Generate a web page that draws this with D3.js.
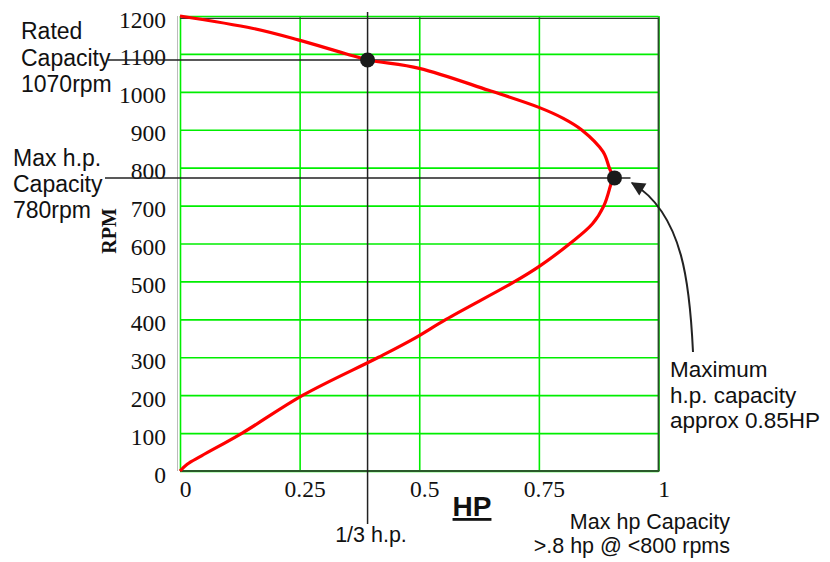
<!DOCTYPE html>
<html><head><meta charset="utf-8">
<script src="https://cdn.jsdelivr.net/npm/d3@7"></script>
<style>body{margin:0;background:#fff}</style>
</head><body><svg id="c" width="830" height="562"></svg>
<script>
// ---- data ----
const hpValues  = [0, 0.015, 0.045, 0.13, 0.257, 0.415, 0.49, 0.556, 0.70, 0.75, 0.815, 0.862, 0.886, 0.899, 0.904, 0.897, 0.884, 0.839, 0.801, 0.75, 0.645, 0.5, 0.394, 0.348, 0.247, 0.153, 0];
const rpmValues = [0, 18, 40, 100, 200, 300, 350, 400, 500, 539, 600, 652, 700, 750, 775, 800, 842, 900, 930, 959, 1004, 1062, 1084, 1100, 1137, 1167, 1200];
const xTicks = [0, 0.25, 0.5, 0.75, 1];
const xTickLabels = ["0", "0.25", "0.5", "0.75", "1"];
const yTicks = [0,100,200,300,400,500,600,700,800,900,1000,1100,1200];
const ratedPoint = {hp: 0.392, rpm: 1084};
const maxPoint = {hp: 0.908, rpm: 773};
const ratedLabel = ["Rated", "Capacity", "1070rpm"];
const maxLabel = ["Max h.p.", "Capacity", "780rpm"];
const maxNote = ["Maximum", "h.p. capacity", "approx 0.85HP"];
const bottomNote = ["Max hp Capacity", ">.8 hp @ <800 rpms"];

const svg = d3.select("#c");
const x = d3.scaleLinear().domain([0, 1]).range([180, 658.5]);
const y = d3.scaleLinear().domain([0, 1200]).range([471, 16]);
const green = "#00ee00";
const serif = "'Liberation Serif', 'Times New Roman', serif";
const sans = "'Liberation Sans', Arial, sans-serif";

// gridlines
svg.append("g").attr("transform", `translate(0,${y(0)})`)
  .call(d3.axisBottom(x).tickValues(xTicks).tickSize(-(y(0) - y(1200))).tickFormat(""))
  .call(g => { g.select(".domain").remove(); g.selectAll("line").attr("stroke", green).attr("stroke-width", 1.6); });
svg.append("g").attr("transform", `translate(${x(0)},0)`)
  .call(d3.axisLeft(y).tickValues(yTicks).tickSize(-(x(1) - x(0))).tickFormat(""))
  .call(g => { g.select(".domain").remove(); g.selectAll("line").attr("stroke", green).attr("stroke-width", 1.6); });

// frame (dark edges)
svg.append("line").attr("x1", x(0)).attr("x2", x(1)).attr("y1", y(1200) + 2.3).attr("y2", y(1200) + 2.3).attr("stroke", "#333").attr("stroke-width", 1.3);
svg.append("line").attr("x1", x(1)).attr("x2", x(1)).attr("y1", y(1200) + 1.5).attr("y2", y(0)).attr("stroke", "#2a4a2a").attr("stroke-width", 1.8);
svg.append("line").attr("x1", x(0)).attr("x2", x(1) + 0.9).attr("y1", y(0)).attr("y2", y(0)).attr("stroke", "#2a5a2a").attr("stroke-width", 2);
svg.append("line").attr("x1", x(0) - 2.5).attr("x2", x(0) - 2.5).attr("y1", y(1200)).attr("y2", y(0)).attr("stroke", "#bbb").attr("stroke-width", 1);

// tick labels via axes
svg.append("g").attr("transform", `translate(${x(0)},0)`)
  .call(d3.axisLeft(y).tickValues(yTicks).tickSize(0).tickPadding(14).tickFormat(d3.format("d")))
  .call(g => { g.select(".domain").remove();
    g.selectAll("text").attr("font-family", serif).attr("font-size", 23.5).attr("fill", "#111").attr("dy", "0.47em"); });
svg.append("g").attr("transform", `translate(0,${y(0)})`)
  .call(d3.axisBottom(x).tickValues(xTicks).tickSize(0).tickPadding(9).tickFormat((d, i) => xTickLabels[i]))
  .call(g => { g.select(".domain").remove();
    g.selectAll("text").attr("font-family", serif).attr("font-size", 23.5).attr("fill", "#111").attr("dx", 5); });

// annotation lines
const ink = "#222";
svg.append("line").attr("x1", 108).attr("x2", x(0.5)).attr("y1", y(ratedPoint.rpm)).attr("y2", y(ratedPoint.rpm)).attr("stroke", ink).attr("stroke-width", 1.5);
svg.append("line").attr("x1", x(ratedPoint.hp)).attr("x2", x(ratedPoint.hp)).attr("y1", 12).attr("y2", 524).attr("stroke", ink).attr("stroke-width", 1.5);
svg.append("line").attr("x1", 105).attr("x2", x(maxPoint.hp) + 16).attr("y1", y(maxPoint.rpm)).attr("y2", y(maxPoint.rpm)).attr("stroke", ink).attr("stroke-width", 1.5);

// curve
const pts = hpValues.map((h, i) => [h, rpmValues[i]]);
svg.append("path").datum(pts)
  .attr("d", d3.line().x(d => x(d[0])).y(d => y(d[1])).curve(d3.curveCatmullRom.alpha(0.5)))
  .attr("fill", "none").attr("stroke", "#ff0000").attr("stroke-width", 3.2).attr("stroke-linejoin", "round");

// dots
svg.selectAll("circle.pt").data([ratedPoint, maxPoint]).join("circle")
  .attr("cx", d => x(d.hp)).attr("cy", d => y(d.rpm)).attr("r", 7.5).attr("fill", "#1a1a1a");

// arrow
svg.append("defs").append("marker").attr("id", "ah").attr("viewBox", "0 0 10 10")
  .attr("refX", 9).attr("refY", 5).attr("markerWidth", 8).attr("markerHeight", 7).attr("orient", "auto").attr("markerUnits", "strokeWidth")
  .append("path").attr("d", "M0,0 L10,5 L0,10 z").attr("fill", "#222");
svg.append("path").attr("d", "M693,352 C690,288 684,214 632,183")
  .attr("fill", "none").attr("stroke", "#222").attr("stroke-width", 2).attr("marker-end", "url(#ah)");

// texts
function lines(arr, x0, y0, dy, anchor, size) {
  arr.forEach((t, i) => svg.append("text").attr("x", x0).attr("y", y0 + i * dy).attr("text-anchor", anchor)
    .attr("font-family", sans).attr("font-size", size).attr("fill", "#111").text(t));
}
lines(ratedLabel, 21, 39, 26.5, "start", 23);
lines(maxLabel, 13, 166, 26, "start", 23);
lines(maxNote, 670, 377, 25.5, "start", 22.5);
lines(bottomNote, 730, 529, 23.5, "end", 21.5);
svg.append("text").attr("x", 371).attr("y", 542).attr("text-anchor", "middle").attr("font-family", sans).attr("font-size", 21.5).attr("fill", "#111").text("1/3 h.p.");

// axis titles
svg.append("text").attr("transform", "translate(116,231) rotate(-90)").attr("text-anchor", "middle")
  .attr("font-family", serif).attr("font-size", 20).attr("font-weight", "bold").attr("fill", "#111").text("RPM");
svg.append("text").attr("x", 472).attr("y", 516).attr("text-anchor", "middle")
  .attr("font-family", sans).attr("font-size", 28).attr("font-weight", "bold").attr("text-decoration", "underline").attr("fill", "#111").text("HP");
</script></body></html>
